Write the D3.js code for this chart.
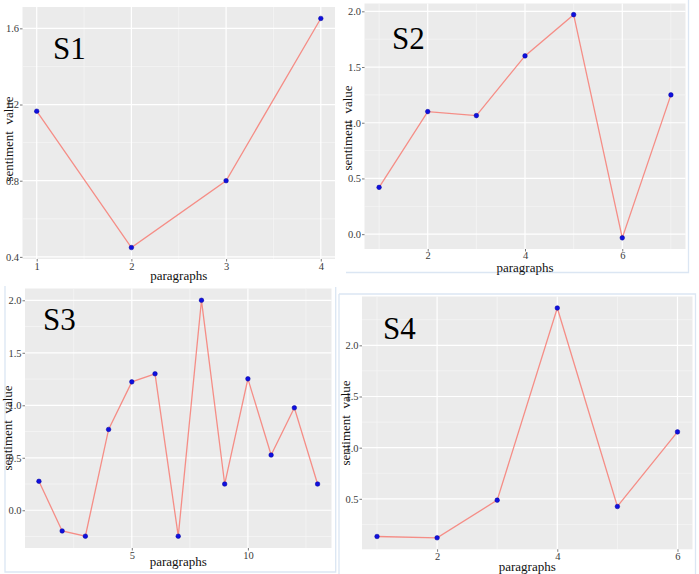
<!DOCTYPE html>
<html>
<head>
<meta charset="utf-8">
<script src="https://cdn.jsdelivr.net/npm/d3@7"></script>
<style>
  html, body { margin: 0; padding: 0; background: #fff; }
  svg { display: block; }
  text { font-family: "Liberation Serif", "DejaVu Serif", serif; }
</style>
</head>
<body>
<svg id="chart" width="699" height="574"></svg>
<script>
// ---- data ----
const panelNames = ["S1", "S2", "S3", "S4"];
const s1Values = [1.165, 0.449, 0.800, 1.652];
const s2Values = [0.42, 1.10, 1.064, 1.60, 1.97, -0.033, 1.25];
const s3Values = [0.276, -0.197, -0.247, 0.77, 1.223, 1.30, -0.247, 2.0, 0.25, 1.252, 0.526, 0.976, 0.25];
const s4Values = [0.132, 0.119, 0.487, 2.365, 0.425, 1.154];
const s1YTicks = [0.4, 0.8, 1.2, 1.6];
const s2YTicks = [0.0, 0.5, 1.0, 1.5, 2.0];
const s3YTicks = [0.0, 0.5, 1.0, 1.5, 2.0];
const s4YTicks = [0.5, 1.0, 1.5, 2.0];
const s1XTicks = [1, 2, 3, 4];
const s2XTicks = [2, 4, 6];
const s3XTicks = [5, 10];
const s4XTicks = [2, 4, 6];
const xTitle = "paragraphs";
const yTitle = "sentiment\u00a0\u00a0value";

// ---- layout ----
const layout = [
  { left: 22.5, right: 335, top: 7, bottom: 259, xPad: 1, yTitleX: 8, yTitleY: 139, xTitleY: 279.5, labelX: 53, labelY: 59 },
  { left: 364.5, right: 685.5, top: 3.5, bottom: 249, xPad: 0, yTitleX: 347, yTitleY: 128, xTitleY: 271.5, labelX: 392, labelY: 49 },
  { left: 25, right: 331.5, top: 288.5, bottom: 548, xPad: 1.5, yTitleX: 7.5, yTitleY: 428, xTitleY: 566, labelX: 43, labelY: 330 },
  { left: 362, right: 692.5, top: 296.5, bottom: 549.3, xPad: 0.5, yTitleX: 345.5, yTitleY: 423, xTitleY: 570.5, labelX: 383, labelY: 339 }
];
const seriesList = [s1Values, s2Values, s3Values, s4Values];
const yTickList = [s1YTicks, s2YTicks, s3YTicks, s4YTicks];
const xTickList = [s1XTicks, s2XTicks, s3XTicks, s4XTicks];

const svg = d3.select("#chart");

// faint frames of the pasted screenshots
const frameColor = "#dbe6f3";
const frames = svg.append("g").attr("stroke", frameColor).attr("stroke-width", 1.3).attr("fill", "none");
frames.append("path").attr("d", "M346,272.5 H688.5 V0");
frames.append("path").attr("d", "M5,286 V572 H335.7 V287");
frames.append("path").attr("d", "M339,294 V574 M339,294 H695.5 V574");

function minorBreaks(major, lo, hi) {
  const step = major.length > 1 ? major[1] - major[0] : 1;
  const out = [];
  const start = major[0] - step * 5;
  for (let i = 0; i < major.length + 10; i++) {
    const m = start + step * i + step / 2;
    if (m >= lo && m <= hi && !major.some(v => Math.abs(v - m) < 1e-9)) out.push(m);
  }
  return out;
}

panelNames.forEach((name, i) => {
  const L = layout[i];
  const vals = seriesList[i];
  const data = vals.map((v, j) => ({ x: j + 1, y: v }));
  const xExt = [1, vals.length];
  const yExt = d3.extent(vals);
  const xE = (xExt[1] - xExt[0]) * 0.05, yE = (yExt[1] - yExt[0]) * 0.05;
  const x = d3.scaleLinear().domain([xExt[0] - xE, xExt[1] + xE]).range([L.left, L.right]);
  const y = d3.scaleLinear().domain([yExt[0] - yE, yExt[1] + yE]).range([L.bottom, L.top]);

  const g = svg.append("g");
  g.append("rect").attr("x", L.left).attr("y", L.top)
    .attr("width", L.right - L.left).attr("height", L.bottom - L.top)
    .attr("fill", "#ebebeb");

  const xMinor = minorBreaks(xTickList[i], x.domain()[0], x.domain()[1]);
  const yMinor = minorBreaks(yTickList[i], y.domain()[0], y.domain()[1]);

  g.selectAll(".ymin").data(yMinor).join("line")
    .attr("x1", L.left).attr("x2", L.right).attr("y1", d => y(d)).attr("y2", d => y(d))
    .attr("stroke", "#f7f7f7").attr("stroke-width", 0.7);
  g.selectAll(".xmin").data(xMinor).join("line")
    .attr("y1", L.top).attr("y2", L.bottom).attr("x1", d => x(d)).attr("x2", d => x(d))
    .attr("stroke", "#f7f7f7").attr("stroke-width", 0.7);
  g.selectAll(".ymaj").data(yTickList[i]).join("line")
    .attr("x1", L.left).attr("x2", L.right).attr("y1", d => y(d)).attr("y2", d => y(d))
    .attr("stroke", "#ffffff").attr("stroke-width", 1.2);
  g.selectAll(".xmaj").data(xTickList[i]).join("line")
    .attr("y1", L.top).attr("y2", L.bottom).attr("x1", d => x(d)).attr("x2", d => x(d))
    .attr("stroke", "#ffffff").attr("stroke-width", 1.2);

  // axes
  const yAxis = d3.axisLeft(y).tickValues(yTickList[i]).tickFormat(d3.format(".1f")).tickSize(2.5).tickPadding(1);
  const xAxis = d3.axisBottom(x).tickValues(xTickList[i]).tickFormat(d3.format("d")).tickSize(2.5).tickPadding(L.xPad);
  const ya = g.append("g").attr("transform", `translate(${L.left},0)`).call(yAxis);
  const xa = g.append("g").attr("transform", `translate(0,${L.bottom})`).call(xAxis);
  [ya, xa].forEach(a => {
    a.attr("font-family", "Liberation Serif, serif");
    a.select(".domain").remove();
    a.selectAll(".tick line").attr("stroke", "#555").attr("stroke-width", 0.8);
    a.selectAll(".tick text").attr("fill", "#3a3a3a").attr("font-size", 10.5)
      .attr("font-family", "Liberation Serif, serif");
  });

  // line + points
  g.append("path").datum(data)
    .attr("d", d3.line().x(d => x(d.x)).y(d => y(d.y)))
    .attr("fill", "none").attr("stroke", "#f8766d").attr("stroke-opacity", 0.8).attr("stroke-width", 1.3);
  g.selectAll(".pt").data(data).join("circle")
    .attr("cx", d => x(d.x)).attr("cy", d => y(d.y)).attr("r", 2.3)
    .attr("fill", "#1010e0").attr("stroke", "#000099").attr("stroke-width", 0.5);

  // titles
  g.append("text").attr("x", (L.left + L.right) / 2).attr("y", L.xTitleY)
    .attr("text-anchor", "middle").attr("font-size", 13).attr("fill", "#111").text(xTitle);
  g.append("text").attr("transform", `translate(${L.yTitleX},${L.yTitleY}) rotate(-90)`)
    .attr("text-anchor", "middle").attr("dominant-baseline", "central")
    .attr("font-size", 13).attr("fill", "#111").text(yTitle);
  g.append("text").attr("x", L.labelX).attr("y", L.labelY)
    .attr("font-size", 31).attr("fill", "#000").text(name);
});
</script>
</body>
</html>
